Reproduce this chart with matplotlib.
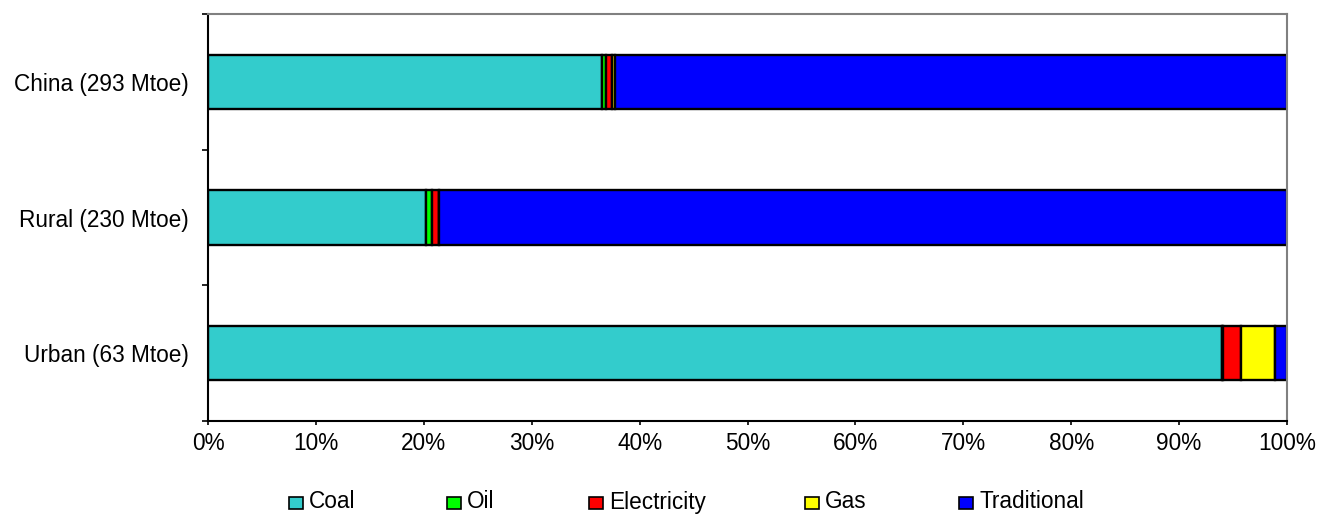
import matplotlib
matplotlib.use('Agg')
from matplotlib import pyplot as plt
from matplotlib.patches import Rectangle
import numpy as np

plt.rcParams['font.family'] = ['Liberation Sans', 'DejaVu Sans']

# rows from bottom to top
regions = ['Urban (63 Mtoe)', 'Rural (230 Mtoe)', 'China (293 Mtoe)']
fuels = ['Coal', 'Oil', 'Electricity', 'Gas', 'Traditional']
coal = [94.0, 20.2, 36.5]
oil = [0.1, 0.6, 0.4]
electricity = [1.6, 0.6, 0.5]
gas = [3.2, 0.0, 0.3]
traditional = [1.1, 78.6, 62.3]
colors = ['#33CCCC', '#00FF00', '#FF0000', '#FFFF00', '#0000FF']

W, H = 1320, 514
fig = plt.figure(figsize=(W / 100, H / 100), dpi=100)
ax = fig.add_axes([208 / W, (H - 421) / H, 1079 / W, 407 / H])

y = np.arange(len(regions))
left = np.zeros(len(regions))
for vals, c in zip([coal, oil, electricity, gas, traditional], colors):
    ax.barh(y, vals, left=left, height=0.4, color=c, edgecolor='black', linewidth=1.7)
    left += np.array(vals)

ax.set_xlim(0, 100)
ax.set_ylim(-0.5, 2.5)
ax.set_xticks(np.arange(0, 101, 10))
ax.set_xticklabels([f'{v}%' for v in range(0, 101, 10)], fontsize=16.3)
ax.set_yticks([-0.5, 0.5, 1.5, 2.5])
ax.set_yticklabels([])
ax.set_yticks(y, minor=True)
ax.set_yticklabels(regions, minor=True, fontsize=16.3)
ax.tick_params(axis='y', which='minor', length=0, pad=14)
ax.tick_params(axis='y', which='major', length=4.5, width=1.2, direction='out')
ax.tick_params(axis='x', length=3, width=1.2, direction='out', pad=5)

for s in ['top', 'right']:
    ax.spines[s].set_color('#808080')
    ax.spines[s].set_linewidth(1.5)
for s in ['left', 'bottom']:
    ax.spines[s].set_color('black')
    ax.spines[s].set_linewidth(1.5)

# legend row along the bottom edge
box_x = [289, 447, 589, 805, 959]
for bx, name, c in zip(box_x, fuels, colors):
    fig.patches.append(Rectangle((bx / W, (H - 509) / H), 14 / W, 12 / H,
                                 transform=fig.transFigure, facecolor=c,
                                 edgecolor='black', linewidth=1.2))
    fig.text((bx + 20) / W, (H - 502) / H, name, fontsize=16.3, va='center', ha='left')

fig.savefig('out.png', dpi=100)
